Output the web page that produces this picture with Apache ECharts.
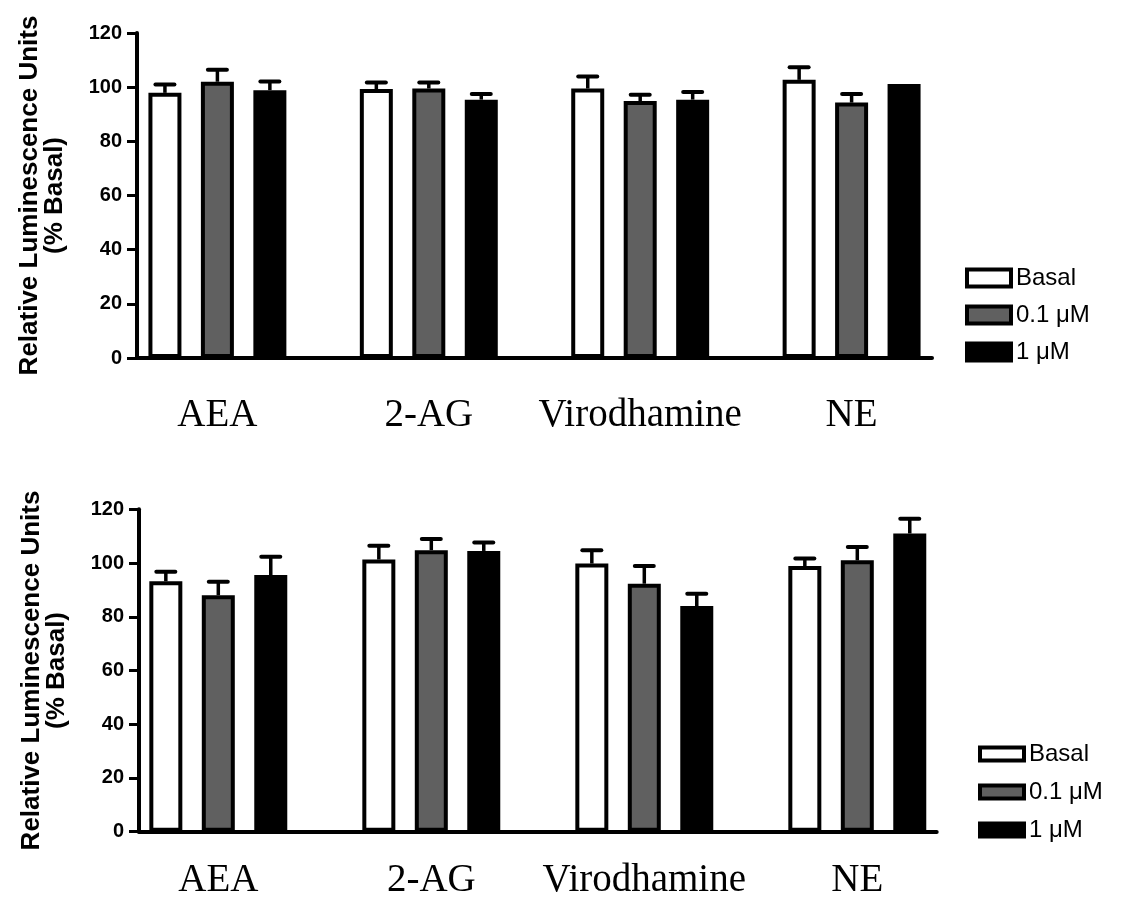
<!DOCTYPE html>
<html>
<head>
<meta charset="utf-8">
<script src="https://cdn.jsdelivr.net/npm/echarts@6/dist/echarts.min.js"></script>
<style>html,body{margin:0;padding:0;background:#fff}#c{width:1123px;height:905px}</style>
</head>
<body>
<div id="c"></div>
<script>
const categories = ['AEA', '2-AG', 'Virodhamine', 'NE'];
const seriesNames = ['Basal', '0.1 \u03bcM', '1 \u03bcM'];
const yTicks = [0, 20, 40, 60, 80, 100, 120];

// Top panel
const topBasal = [97.9, 99.3, 99.5, 102.7];
const topBasalErr = [3.1, 2.4, 4.4, 4.7];
const top01 = [102.0, 99.5, 94.9, 94.3];
const top01Err = [4.4, 2.2, 2.3, 3.2];
const top1 = [98.9, 95.4, 95.4, 101.2];
const top1Err = [3.2, 2.1, 2.8, 0];

// Bottom panel
const botBasal = [93.2, 101.3, 99.8, 98.9];
const botBasalErr = [3.6, 5.1, 5.0, 2.8];
const bot01 = [88.0, 104.8, 92.3, 101.0];
const bot01Err = [5.0, 4.1, 6.6, 5.0];
const bot1 = [95.5, 104.5, 84.0, 111.0];
const bot1Err = [6.8, 3.1, 4.6, 5.5];

const BAR_W = 33, BAR_GAP = 0.59, PITCH = BAR_W * (1 + BAR_GAP);
const fills = ['#ffffff', '#606060', '#000000'];

function errData(groups) {
  const out = [];
  groups.forEach((g, s) => g.vals.forEach((v, i) => out.push([i, v, g.errs[i], s])));
  return out;
}
function renderErr(params, api) {
  const ci = api.value(0), v = api.value(1), e = api.value(2), s = api.value(3);
  if (!(e > 0)) return null;
  const base = api.coord([ci, v]);
  const top = api.coord([ci, v + e]);
  const x = base[0] + (s - 1) * PITCH;
  return {
    type: 'group',
    children: [
      {type: 'line', shape: {x1: x, y1: base[1], x2: x, y2: top[1]}, style: {stroke: '#000', lineWidth: 3.5}},
      {type: 'line', shape: {x1: x - 9.5, y1: top[1], x2: x + 9.5, y2: top[1]}, style: {stroke: '#000', lineWidth: 4, lineCap: 'round'}}
    ]
  };
}

const yTitle = 'Relative Luminescence Units\n(% Basal)';
function visY(gi) {
  return {
    type: 'value', gridIndex: gi, min: yTicks[0], max: yTicks[yTicks.length - 1], interval: 20,
    name: yTitle, nameLocation: 'middle', nameRotate: 90, nameGap: 70,
    nameTextStyle: {fontFamily: 'Liberation Sans', fontWeight: 'bold', fontSize: 26, color: '#000', lineHeight: 25, align: 'center'},
    axisLine: {show: true, lineStyle: {color: '#000', width: 4}},
    axisTick: {show: true, length: 10, lineStyle: {color: '#000', width: 3}},
    axisLabel: {margin: 15, fontFamily: 'Liberation Sans', fontWeight: 'bold', fontSize: 20, color: '#000'},
    splitLine: {show: false}
  };
}
function hidY(gi) {
  return {type: 'value', gridIndex: gi, min: 0, max: 120, show: false};
}
function visX(gi) {
  return {
    type: 'value', gridIndex: gi, min: 0, max: 1,
    axisLine: {show: true, onZero: false, lineStyle: {color: '#000', width: 4}},
    axisTick: {show: false}, axisLabel: {show: false}, splitLine: {show: false}
  };
}
function catX(gi, margin) {
  return {
    type: 'category', gridIndex: gi, data: categories,
    axisLine: {show: false}, axisTick: {show: false},
    axisLabel: {interval: 0, margin: margin, fontFamily: 'Liberation Serif', fontSize: 39, color: '#000'}
  };
}
function bars(vals, idx, axisIdx) {
  return {
    type: 'bar', name: seriesNames[idx], data: vals, xAxisIndex: axisIdx, yAxisIndex: axisIdx,
    barWidth: BAR_W, barGap: (BAR_GAP * 100) + '%',
    itemStyle: {color: fills[idx], borderColor: '#000', borderWidth: 4},
    emphasis: {disabled: true}, z: 2
  };
}
function errSeries(groups, axisIdx) {
  return {
    type: 'custom', xAxisIndex: axisIdx, yAxisIndex: axisIdx, data: errData(groups),
    renderItem: renderErr, z: 3, silent: true
  };
}
function legendCfg(left, top, ih, gap) {
  return {
    orient: 'vertical', left: left, top: top, padding: 0, itemWidth: 44, itemHeight: ih, itemGap: gap,
    icon: 'rect', data: seriesNames, selectedMode: false,
    itemStyle: {borderColor: '#000', borderWidth: 4},
    textStyle: {fontFamily: 'Liberation Sans', fontSize: 24, color: '#000'}
  };
}

const option = {
  backgroundColor: '#fff',
  animation: false,
  legend: [legendCfg(965, 266, 17, 13), legendCfg(978, 742, 13, 14)],
  grid: [
    {left: 137, top: 33, width: 795, height: 325},
    {left: 111.7, top: 33, width: 845.6, height: 325},
    {left: 139, top: 509.3, width: 797.7, height: 322.4},
    {left: 111.8, top: 509.3, width: 852, height: 322.4}
  ],
  xAxis: [visX(0), catX(1, 38), visX(2), catX(3, 30)],
  yAxis: [visY(0), hidY(1), visY(2), hidY(3)],
  series: [
    bars(topBasal, 0, 1), bars(top01, 1, 1), bars(top1, 2, 1),
    errSeries([{vals: topBasal, errs: topBasalErr}, {vals: top01, errs: top01Err}, {vals: top1, errs: top1Err}], 1),
    bars(botBasal, 0, 3), bars(bot01, 1, 3), bars(bot1, 2, 3),
    errSeries([{vals: botBasal, errs: botBasalErr}, {vals: bot01, errs: bot01Err}, {vals: bot1, errs: bot1Err}], 3)
  ]
};
echarts.init(document.getElementById('c'), null, {renderer: 'canvas'}).setOption(option);
</script>
</body>
</html>
